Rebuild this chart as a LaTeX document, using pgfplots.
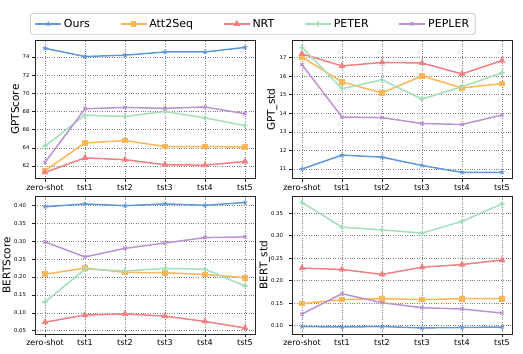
\documentclass[border=0pt]{standalone}
\usepackage{fontspec}
\setmainfont{DejaVu Sans}
\usepackage{pgfplots}
\pgfplotsset{compat=1.18}
\usetikzlibrary{plotmarks}

\definecolor{cours}{RGB}{96,152,218}
\definecolor{catt}{RGB}{255,182,88}
\definecolor{cnrt}{RGB}{240,128,130}
\definecolor{cpeter}{RGB}{164,222,186}
\definecolor{cpepler}{RGB}{188,146,210}

\pgfdeclareplotmark{fstar}{%
 \pgfpathmoveto{\pgfpointpolar{90}{1.35\pgfplotmarksize}}%
 \pgfpathlineto{\pgfpointpolar{126}{0.55\pgfplotmarksize}}%
 \pgfpathlineto{\pgfpointpolar{162}{1.35\pgfplotmarksize}}%
 \pgfpathlineto{\pgfpointpolar{198}{0.55\pgfplotmarksize}}%
 \pgfpathlineto{\pgfpointpolar{234}{1.35\pgfplotmarksize}}%
 \pgfpathlineto{\pgfpointpolar{270}{0.55\pgfplotmarksize}}%
 \pgfpathlineto{\pgfpointpolar{306}{1.35\pgfplotmarksize}}%
 \pgfpathlineto{\pgfpointpolar{342}{0.55\pgfplotmarksize}}%
 \pgfpathlineto{\pgfpointpolar{18}{1.35\pgfplotmarksize}}%
 \pgfpathlineto{\pgfpointpolar{54}{0.55\pgfplotmarksize}}%
 \pgfpathclose
 \pgfusepathqfill}

\pgfdeclareplotmark{fplus}{%
 \pgfpathrectangle{\pgfpoint{-1.1\pgfplotmarksize}{-0.38\pgfplotmarksize}}{\pgfpoint{2.2\pgfplotmarksize}{0.76\pgfplotmarksize}}%
 \pgfpathrectangle{\pgfpoint{-0.38\pgfplotmarksize}{-1.1\pgfplotmarksize}}{\pgfpoint{0.76\pgfplotmarksize}{2.2\pgfplotmarksize}}%
 \pgfusepathqfill}

\pgfplotsset{
  ylab/.style={every axis y label/.style={at={(rel axis cs:0,0.5)}, xshift=#1, rotate=90, anchor=center, font=\fontsize{10.5}{12}\selectfont}},
  panel/.style={
    scale only axis, width=220pt, height=138pt, anchor=south west,
    xmin=-0.25, xmax=5.25,
    xtick={0,1,2,3,4,5},
    xticklabels={zero-shot,tst1,tst2,tst3,tst4,tst5},
    grid=major,
    major grid style={dotted, black!50, line width=0.6pt},
    axis line style={black!85, line width=0.8pt},
    tick align=outside, major tick length=3pt,
    tick style={black!85, line width=0.6pt},
    xtick pos=bottom, ytick pos=left,
    xticklabel style={font=\fontsize{8}{9}\selectfont, yshift=1pt},
    yticklabel style={font=\fontsize{5.3}{6}\selectfont, xshift=1pt},
    /pgf/number format/assume math mode=true,
    ylab=-20pt,
    legend image code/.code={\draw[mark repeat=2,mark phase=2,#1] plot coordinates {(0pt,0pt) (13pt,0pt) (26pt,0pt)};},
  },
  sOurs/.style={color=cours, line width=1.5pt, mark=fstar, mark size=2.2pt, mark options={solid}},
  sAtt/.style={color=catt, line width=1.5pt, mark=square*, mark size=2.1pt, mark options={solid}},
  sNRT/.style={color=cnrt, line width=1.5pt, mark=triangle*, mark size=2.5pt, mark options={solid}},
  sPETER/.style={color=cpeter, line width=1.5pt, mark=fplus, mark size=2.3pt, mark options={solid}},
  sPEPLER/.style={color=cpepler, line width=1.5pt, mark=x, mark size=2.2pt, mark options={solid, line width=1.3pt}},
}

\begin{document}
\begin{tikzpicture}
\useasboundingbox (0,0) rectangle (523pt,354pt);

% Top-left: GPTScore
\begin{axis}[panel, at={(35pt,175.3pt)},
  ymin=60.61, ymax=75.79, ytick={62,64,66,68,70,72,74},
  ylabel={GPTScore},
  legend columns=5,
  legend style={at={(0.99,1.122)}, anchor=center, font=\fontsize{11}{13}\selectfont,
    draw=black!20, rounded corners=2pt, line width=0.8pt, inner xsep=4pt, inner ysep=3.5pt,
    /tikz/every even column/.append style={column sep=28pt}},
]
\addplot[sOurs] coordinates {(0,74.95) (1,74.05) (2,74.2) (3,74.55) (4,74.55) (5,75.05)};
\addlegendentry{Ours}
\addplot[sAtt] coordinates {(0,61.5) (1,64.55) (2,64.8) (3,64.15) (4,64.15) (5,64.1)};
\addlegendentry{Att2Seq}
\addplot[sNRT] coordinates {(0,61.3) (1,62.9) (2,62.7) (3,62.15) (4,62.1) (5,62.5)};
\addlegendentry{NRT}
\addplot[sPETER] coordinates {(0,64.2) (1,67.6) (2,67.45) (3,68.0) (4,67.3) (5,66.45)};
\addlegendentry{PETER}
\addplot[sPEPLER] coordinates {(0,62.4) (1,68.3) (2,68.45) (3,68.35) (4,68.5) (5,67.75)};
\addlegendentry{PEPLER}
\end{axis}

% Top-right: GPT_std
\begin{axis}[panel, at={(292pt,175.3pt)},
  ymin=10.48, ymax=17.91, ytick={11,12,13,14,15,16,17},
  ylabel={GPT\_std},
]
\addplot[sOurs] coordinates {(0,11.0) (1,11.75) (2,11.64) (3,11.19) (4,10.82) (5,10.82)};
\addplot[sAtt] coordinates {(0,17.03) (1,15.69) (2,15.1) (3,16.01) (4,15.37) (5,15.6)};
\addplot[sNRT] coordinates {(0,17.2) (1,16.55) (2,16.74) (3,16.71) (4,16.12) (5,16.84)};
\addplot[sPETER] coordinates {(0,17.55) (1,15.33) (2,15.8) (3,14.77) (4,15.43) (5,16.18)};
\addplot[sPEPLER] coordinates {(0,16.62) (1,13.8) (2,13.77) (3,13.45) (4,13.4) (5,13.91)};
\end{axis}

% Bottom-left: BERTScore
\begin{axis}[panel, at={(35pt,19.8pt)},
  ymin=0.0405, ymax=0.4255, ytick={0.05,0.10,0.15,0.20,0.25,0.30,0.35,0.40},
  yticklabel style={xshift=-3.5pt, /pgf/number format/.cd, fixed, fixed zerofill, precision=2},
  ylab=-28.5pt,
  ylabel={BERTScore},
]
\addplot[sOurs] coordinates {(0,0.396) (1,0.404) (2,0.399) (3,0.404) (4,0.400) (5,0.408)};
\addplot[sAtt] coordinates {(0,0.208) (1,0.225) (2,0.213) (3,0.212) (4,0.207) (5,0.198)};
\addplot[sNRT] coordinates {(0,0.074) (1,0.094) (2,0.097) (3,0.091) (4,0.076) (5,0.058)};
\addplot[sPETER] coordinates {(0,0.130) (1,0.222) (2,0.217) (3,0.224) (4,0.222) (5,0.175)};
\addplot[sPEPLER] coordinates {(0,0.298) (1,0.256) (2,0.280) (3,0.295) (4,0.310) (5,0.312)};
\end{axis}

% Bottom-right: BERT_std
\begin{axis}[panel, at={(292pt,19.8pt)},
  ymin=0.081, ymax=0.388, ytick={0.10,0.15,0.20,0.25,0.30,0.35},
  yticklabel style={xshift=-3.5pt, /pgf/number format/.cd, fixed, fixed zerofill, precision=2},
  ylab=-27.5pt,
  ylabel={BERT\_std},
]
\addplot[sOurs] coordinates {(0,0.098) (1,0.097) (2,0.098) (3,0.095) (4,0.096) (5,0.097)};
\addplot[sAtt] coordinates {(0,0.149) (1,0.158) (2,0.160) (3,0.158) (4,0.160) (5,0.160)};
\addplot[sNRT] coordinates {(0,0.228) (1,0.225) (2,0.214) (3,0.230) (4,0.236) (5,0.246)};
\addplot[sPETER] coordinates {(0,0.374) (1,0.319) (2,0.313) (3,0.306) (4,0.332) (5,0.371)};
\addplot[sPEPLER] coordinates {(0,0.126) (1,0.171) (2,0.151) (3,0.140) (4,0.137) (5,0.128)};
\end{axis}
\end{tikzpicture}
\end{document}
